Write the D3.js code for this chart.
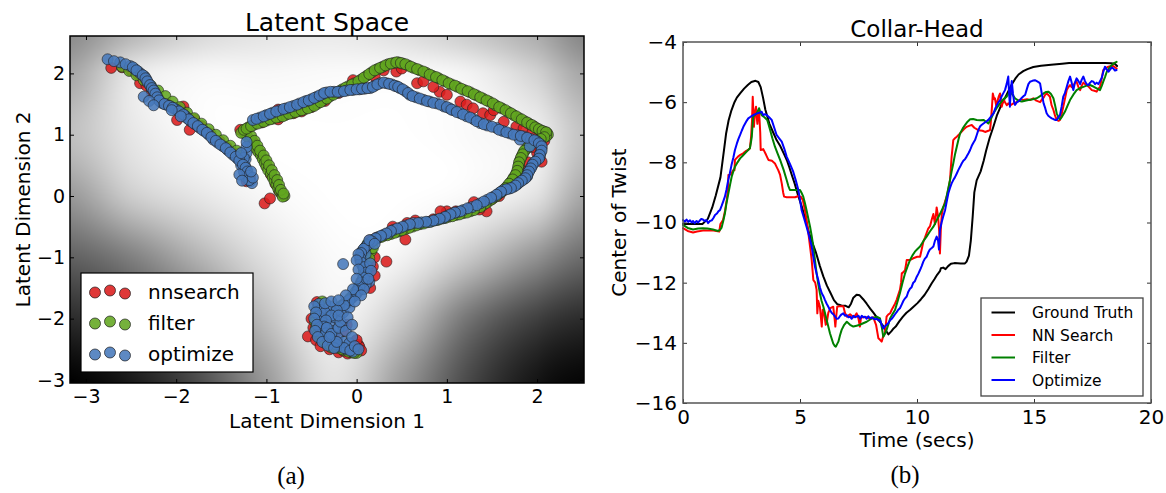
<!DOCTYPE html>
<html>
<head>
<meta charset="utf-8">
<script src="https://cdn.jsdelivr.net/npm/d3@7"></script>
<style>
  html, body { margin: 0; padding: 0; background: #fff; }
  svg { display: block; font-family: "DejaVu Sans", sans-serif; }
</style>
</head>
<body>
<svg id="fig" width="1166" height="493"></svg>
<script>
// ---------------- panel (a): latent space ----------------
const latentTicks = [-3, -2, -1, 0, 1, 2];
const latentSeries = ["nnsearch", "filter", "optimize"];

const nnsearchPts = [
  [-2.72,2.09],[-2.60,2.10],[-2.50,2.05],[-2.42,1.98],[-2.40,1.84],[-2.33,1.80],[-2.27,1.69],[-2.20,1.60],
  [-2.10,1.50],[-1.99,1.24],[-1.92,1.46],[-1.85,1.08],[-1.80,1.25],[-1.72,1.14],[-1.62,1.02],[-1.52,0.90],
  [-1.44,0.80],[-1.36,0.70],[-1.30,0.60],[-1.25,0.45],[-1.22,0.24],[-1.18,0.30],[-1.24,0.34],
  [-1.29,1.08],[-1.15,0.88],[-1.08,0.72],[-1.00,0.50],[-0.95,0.35],[-0.90,0.20],[-1.02,-0.12],[-0.96,-0.04],[-0.86,0.08],
  [-1.20,1.10],[-1.05,1.20],[-0.87,1.25],[-0.87,1.41],[-0.70,1.35],[-0.61,1.38],[-0.50,1.45],[-0.41,1.54],
  [-0.35,1.55],[-0.20,1.68],[-0.04,1.89],[0.05,1.85],[0.20,1.95],[0.30,2.05],[0.44,2.03],[0.50,2.08],
  [0.67,1.84],[0.74,1.87],[0.92,1.70],[1.00,1.65],[1.15,1.54],[1.22,1.49],[1.29,1.43],[1.40,1.35],
  [1.48,1.32],[1.52,1.40],[1.63,1.21],[1.77,1.13],[1.85,1.10],[1.95,1.05],[2.05,0.98],[2.08,0.90],
  [2.05,0.56],[2.00,0.70],[1.90,0.55],[1.85,0.40],[1.80,0.30],[1.72,0.18],[1.62,0.08],[1.50,-0.05],
  [1.44,-0.25],[1.36,-0.22],[1.25,-0.20],[1.10,-0.25],[1.00,-0.25],[0.93,-0.25],[0.85,-0.38],[0.70,-0.45],
  [0.56,-0.44],[0.54,-0.71],[0.45,-0.58],[0.33,-0.62],[0.22,-0.68],[0.15,-0.72],[0.10,-0.85],[0.33,-1.07],
  [0.20,-1.00],[0.08,-1.10],[0.10,-1.25],[0.05,-1.40],[0.02,-1.55],[-0.05,-1.65],[-0.12,-1.75],[-0.20,-1.85],
  [-0.28,-1.95],[-0.44,-1.73],[-0.40,-1.85],[-0.36,-2.05],[-0.54,-2.29],[-0.45,-2.35],[-0.40,-2.45],[-0.30,-2.50],
  [-0.20,-2.55],[-0.11,-2.10],[-0.10,-2.57],[0.02,-2.43],[0.03,-2.46],[-0.02,-2.55],[-0.25,-2.30],[-0.15,-2.20],
  [1.30,-0.10],[1.58,0.00],[0.65,-0.40],[0.40,-0.50],[1.95,0.80],[0.85,1.78],[0.05,1.75],[-0.55,1.48],
  [-0.50,-2.00],[-0.48,-2.15],[0.00,-2.35],[0.05,-2.52],[-0.15,-2.52],[0.18,-1.15],[0.20,-1.30],[0.15,-1.50]
];

const filterPts = [
  [-2.60,2.11],[-2.52,2.04],[-2.44,1.97],[-2.36,1.89],[-2.28,1.80],[-2.20,1.72],[-2.12,1.63],[-2.04,1.54],
  [-1.96,1.45],[-1.88,1.36],[-1.80,1.27],[-1.72,1.18],[-1.64,1.09],[-1.56,1.00],[-1.48,0.91],[-1.40,0.82],
  [-1.33,0.74],[-1.27,0.66],
  [-1.24,1.02],[-1.21,0.96],[-1.18,0.90],[-1.15,0.84],[-1.12,0.78],[-1.09,0.72],[-1.06,0.66],[-1.04,0.60],
  [-1.02,0.54],[-1.00,0.48],[-0.98,0.42],[-0.95,0.36],[-0.93,0.30],[-0.91,0.24],[-0.89,0.18],[-0.87,0.12],
  [-0.85,0.07],[-0.83,0.03],[-0.80,0.00],[-0.82,-0.01],
  [-1.17,0.98],[-1.13,0.90],[-1.10,0.82],[-1.07,0.74],[-1.03,0.66],[-1.00,0.58],[-0.97,0.50],[-0.94,0.42],
  [-0.91,0.34],[-0.88,0.26],[-0.86,0.18],[-0.84,0.10],[-0.81,0.04],
  [-1.28,1.03],[-1.25,1.08],[-1.20,1.12],[-1.14,1.16],[-1.07,1.20],[-1.00,1.23],[-0.93,1.26],[-0.86,1.29],
  [-0.79,1.32],[-0.72,1.35],[-0.65,1.38],[-0.58,1.41],[-0.51,1.45],[-0.44,1.50],[-0.37,1.56],[-0.30,1.62],
  [-0.23,1.68],[-0.16,1.74],[-0.09,1.79],[-0.02,1.84],[0.05,1.90],[0.11,1.96],[0.17,2.02],[0.23,2.07],
  [0.29,2.11],[0.35,2.15],[0.41,2.17],[0.46,2.18],[0.51,2.16],[0.57,2.13],[0.63,2.09],[0.70,2.05],
  [0.77,2.01],[0.84,1.96],[0.91,1.92],[0.98,1.87],[1.05,1.82],[1.12,1.78],[1.19,1.73],[1.26,1.69],
  [1.33,1.64],[1.40,1.59],[1.47,1.54],[1.54,1.48],[1.61,1.43],[1.68,1.37],[1.74,1.32],[1.80,1.27],
  [1.86,1.22],[1.91,1.18],[1.96,1.14],[2.00,1.10],[2.04,1.07],[2.08,1.05],[2.11,1.03],[2.12,1.00],
  [2.10,0.97],[2.06,0.95],[2.02,0.92],[1.97,0.88],[1.92,0.83],[1.88,0.77],[1.85,0.71],[1.83,0.65],
  [1.81,0.58],[1.80,0.51],[1.79,0.44],[1.77,0.37],[1.74,0.30],[1.71,0.23],[1.67,0.16],[1.62,0.09],
  [1.57,0.03],[1.52,-0.03],[1.46,-0.09],[1.40,-0.15],[1.33,-0.20],[1.26,-0.25],[1.18,-0.28],[1.10,-0.31],
  [1.02,-0.34],[0.94,-0.37],[0.86,-0.40],[0.78,-0.43],[0.70,-0.46],[0.62,-0.50],[0.54,-0.54],[0.46,-0.58],
  [0.38,-0.62],[0.30,-0.65],[0.23,-0.69],[0.17,-0.74],[0.12,-0.80],[0.08,-0.87],[0.06,-0.94],[0.05,-1.01],
  [0.05,-1.08],[0.07,-1.15],[0.08,-1.22],[0.08,-1.30],[0.06,-1.38],[0.03,-1.46],[0.00,-1.54],[-0.04,-1.62],
  [-0.09,-1.70],[-0.15,-1.77],[-0.21,-1.84],[-0.27,-1.92],[-0.32,-2.00],[-0.36,-2.08],[-0.39,-2.16],[-0.40,-2.24],
  [-0.38,-2.32],[-0.33,-2.39],[-0.27,-2.44],[-0.20,-2.48],[-0.13,-2.52],[-0.06,-2.55],[0.00,-2.56],
  [-0.44,-1.85],[-0.45,-1.95],[-0.46,-2.05],[-0.45,-2.15],[-0.43,-2.25],[-0.40,-2.33],[-0.35,-2.40],[-0.28,-2.47],
  [-0.42,-1.78],[-0.38,-1.72],[0.12,-0.78],[0.16,-0.90],[0.14,-1.02],[0.18,-0.85],
  [-1.22,1.10],[-1.17,1.14],[-1.10,1.18],[-1.03,1.21],[-0.96,1.25],[-0.89,1.28],[-0.82,1.30],[-0.75,1.34],
  [-0.68,1.37],[-0.61,1.40],[-0.54,1.43],[-0.47,1.47],[-0.40,1.53],[-0.33,1.59],[-0.26,1.65],[-0.19,1.71],
  [-0.12,1.77],[-0.05,1.82],[0.02,1.87],[0.08,1.93],[0.14,1.99],[0.20,2.05],[0.26,2.09],[0.32,2.13],
  [0.38,2.16],[0.44,2.18],[0.49,2.17],[0.54,2.15],[0.60,2.11],[0.67,2.07],[0.74,2.03],[0.81,1.98],
  [0.88,1.94],[0.95,1.89],[1.02,1.84],[1.09,1.80],[1.16,1.75],[1.23,1.71],[1.30,1.66],[1.37,1.61],
  [1.44,1.56],[1.51,1.51],[1.58,1.45],[1.65,1.40],[1.71,1.35],[1.77,1.30],[1.83,1.25],[1.89,1.20],
  [1.94,1.16],[1.98,1.12],[2.02,1.09],[2.06,1.06],[2.10,1.04],
  [2.08,0.96],[2.04,0.93],[1.99,0.90],[1.94,0.85],[1.90,0.80],[1.86,0.74],[1.84,0.68],[1.82,0.62],
  [1.80,0.55],[1.79,0.48],[1.78,0.41],[1.76,0.34],[1.73,0.27],[1.69,0.20],[1.65,0.13],[1.60,0.06],
  [1.55,0.00],[1.49,-0.06],[1.43,-0.12],[1.37,-0.18],[1.30,-0.23],[1.22,-0.27],[1.14,-0.30],[1.06,-0.33],
  [0.98,-0.36],[0.90,-0.39],[0.82,-0.42],[0.74,-0.45],[0.66,-0.48],[0.58,-0.52],[0.50,-0.56],[0.42,-0.60],
  [0.34,-0.64],[0.27,-0.67],[0.20,-0.72],[0.14,-0.77],[0.10,-0.84],[0.07,-0.91],[0.05,-0.98],[0.05,-1.05],
  [0.06,-1.12],[0.08,-1.19],[0.08,-1.26],[0.07,-1.34],[0.05,-1.42],[0.02,-1.50],[-0.02,-1.58],[-0.07,-1.66],
  [-0.12,-1.73],[-0.18,-1.80],[-0.24,-1.88],[-0.30,-1.96],[-0.34,-2.04],[-0.38,-2.12],[-0.40,-2.20],[-0.39,-2.28],
  [-0.36,-2.36],[-0.30,-2.42],[-0.23,-2.46],[-0.16,-2.50],[-0.09,-2.54],[-0.03,-2.56]
];

const optimizePts = [
  [-2.76,2.23],[-2.62,2.18],[-2.51,2.12],[-2.46,2.07],[-2.42,2.03],[-2.39,1.99],[-2.35,1.95],[-2.33,1.90],
  [-2.31,1.84],[-2.28,1.78],[-2.26,1.74],[-2.24,1.70],[-2.22,1.64],[-2.20,1.58],[-2.18,1.54],[-2.15,1.51],
  [-2.11,1.49],[-2.06,1.46],[-2.02,1.43],[-1.99,1.40],[-1.94,1.35],[-1.90,1.31],[-1.88,1.27],[-1.84,1.22],
  [-1.79,1.17],[-1.74,1.11],[-1.69,1.06],[-1.64,1.00],[-1.59,0.92],[-1.54,0.87],[-1.48,0.81],[-1.43,0.75],
  [-1.37,0.67],[-1.32,0.61],[-1.27,0.54],[-1.24,0.48],[-1.22,0.43],[-1.21,0.36],[-1.20,0.29],[-1.18,0.24],
  [-1.16,0.21],[-1.23,0.31],[-1.25,0.40],[-1.24,0.50],[-1.23,0.60],[-1.22,0.70],[-1.22,0.80],[-1.22,0.88],
  [-1.25,0.62],[-1.28,0.50],
  [-2.69,2.20],[-2.56,2.15],[-2.48,2.10],[-2.44,2.05],[-2.37,1.97],[-2.34,1.92],[-2.32,1.87],[-2.29,1.81],
  [-2.27,1.76],[-2.25,1.72],[-2.23,1.67],[-2.21,1.61],[-2.19,1.56],[-2.13,1.50],[-2.08,1.47],[-2.04,1.44],
  [-1.97,1.38],[-1.92,1.33],[-1.86,1.25],[-1.81,1.19],[-1.76,1.14],[-1.71,1.08],[-1.66,1.03],[-1.61,0.96],
  [-1.56,0.90],[-1.51,0.84],[-1.45,0.78],[-1.40,0.71],[-1.34,0.64],[-1.30,0.58],[-1.26,0.51],[-1.23,0.46],
  [-1.21,0.40],[-1.20,0.33],[-1.19,0.26],
  [-2.36,1.62],[-2.30,1.55],[-2.25,1.48],[-2.05,1.40],[-1.95,1.30],[-1.30,0.35],[-1.27,0.25],[-1.15,0.30],
  [-1.17,0.40],[-1.28,0.70],
  [-1.15,1.24],[-1.07,1.28],[-1.00,1.32],[-0.93,1.36],[-0.85,1.40],[-0.78,1.43],[-0.70,1.47],[-0.63,1.51],
  [-0.56,1.55],[-0.50,1.58],[-0.44,1.62],[-0.38,1.66],[-0.33,1.69],[-0.25,1.70],[-0.18,1.70],[-0.11,1.72],
  [-0.04,1.73],[0.03,1.74],[0.09,1.75],[0.15,1.76],[0.20,1.80],[0.26,1.84],[0.33,1.84],[0.39,1.82],
  [0.44,1.79],[0.48,1.76],[0.54,1.71],[0.59,1.65],[0.66,1.61],[0.74,1.57],[0.81,1.54],[0.89,1.51],
  [0.97,1.46],[1.03,1.43],[1.07,1.40],[1.15,1.35],[1.22,1.30],[1.30,1.25],[1.37,1.19],[1.45,1.15],
  [1.55,1.11],[1.62,1.06],[1.70,1.02],[1.78,0.99],[1.85,0.97],[1.93,0.93],[2.00,0.89],[2.04,0.84],
  [2.05,0.78],[2.04,0.71],[2.03,0.64],[2.00,0.59],[1.96,0.54],[1.94,0.48],[1.92,0.43],[1.90,0.37],
  [1.89,0.32],[1.85,0.27],[1.81,0.23],[1.78,0.19],[1.74,0.15],[1.69,0.12],[1.63,0.10],[1.58,0.05],
  [1.52,-0.01],[1.45,-0.06],[1.37,-0.12],[1.28,-0.18],[1.18,-0.23],[1.12,-0.26],[1.07,-0.28],[1.01,-0.32],
  [0.96,-0.36],[0.88,-0.39],[0.81,-0.42],[0.72,-0.43],[0.63,-0.44],[0.55,-0.48],[0.48,-0.52],[0.41,-0.55],
  [0.36,-0.60],[0.30,-0.63],[0.24,-0.67],[0.19,-0.71],[0.15,-0.77],[0.10,-0.83],[0.06,-0.90],[0.04,-0.97],
  [0.04,-1.05],[0.06,-1.12],[0.11,-1.21],[0.09,-1.29],[0.07,-1.37],[0.05,-1.45],[0.02,-1.52],[0.00,-1.59],
  [-0.05,-1.66],[-0.11,-1.75],[-0.18,-1.82],[-0.26,-1.91],[-0.31,-1.99],[-0.37,-2.08],[-0.35,-2.18],[-0.33,-2.30],
  [-0.27,-2.38],[-0.18,-2.46],[-0.11,-2.50],[-0.04,-2.54],[-0.42,-1.76],[-0.40,-1.86],[-0.42,-1.96],[-0.39,-2.04],
  [-0.41,-2.14],[-0.38,-2.24],[-0.30,-2.10],[-0.25,-2.20],[-0.21,-2.30],[-0.14,-2.38],[-0.24,-1.98],[-0.15,-1.90],
  [-0.08,-1.82],[-0.15,-2.12],[-0.08,-2.40],[-0.30,-1.80],[-0.35,-1.90],[0.12,-1.30],[0.14,-1.40],[0.10,-1.45],
  [0.12,-1.15],[0.10,-0.95],[1.92,0.81],[1.81,0.92],[-0.15,-1.11],
  [-1.11,1.26],[-1.03,1.30],[-0.96,1.34],[-0.89,1.38],[-0.81,1.42],[-0.74,1.45],[-0.66,1.49],[-0.59,1.53],
  [-0.53,1.56],[-0.47,1.60],[-0.41,1.64],[-0.36,1.68],[-0.29,1.70],[-0.21,1.70],[-0.14,1.71],[-0.07,1.73],
  [0.00,1.74],[0.06,1.75],[0.12,1.76],[0.18,1.78],[0.23,1.82],[0.30,1.85],[0.36,1.83],[0.42,1.80],
  [0.46,1.78],[0.51,1.74],[0.57,1.68],[0.62,1.63],[0.70,1.59],[0.78,1.55],[0.85,1.52],[0.93,1.49],
  [1.00,1.45],[1.05,1.41],[1.11,1.37],[1.18,1.33],[1.26,1.28],[1.33,1.22],[1.41,1.17],[1.50,1.13],
  [1.58,1.08],[1.66,1.04],[1.74,1.00],[1.82,0.98],[1.89,0.95],[1.97,0.91],[2.02,0.86],[2.05,0.81],
  [2.05,0.74],[2.03,0.67],[2.02,0.61],[1.98,0.56],[1.95,0.51],[1.93,0.45],[1.91,0.40],[1.89,0.34],
  [1.87,0.29],[1.83,0.25],[1.79,0.21],[1.76,0.17],[1.71,0.13],[1.66,0.11],[1.60,0.07],[1.55,0.02],
  [1.49,-0.03],[1.41,-0.09],[1.33,-0.15],[1.23,-0.20],[1.15,-0.25],[1.09,-0.27],[1.04,-0.30],[0.98,-0.34],
  [0.92,-0.37],[0.85,-0.40],[0.77,-0.42],[0.68,-0.44],[0.59,-0.46],[0.51,-0.50],[0.45,-0.53],[0.38,-0.57],
  [0.33,-0.61],[0.27,-0.65],[0.21,-0.69],[0.17,-0.74],[0.12,-0.80],[0.08,-0.86],[0.05,-0.93],[0.04,-1.01],
  [0.05,-1.08],[0.08,-1.16],[0.10,-1.25],[0.08,-1.33],[0.06,-1.41],[0.03,-1.48],[0.01,-1.55],[-0.02,-1.62],
  [-0.08,-1.70],[-0.14,-1.78],[-0.22,-1.86],[-0.28,-1.95],[-0.34,-2.03],[-0.36,-2.13],[-0.34,-2.24],[-0.30,-2.34],
  [-0.23,-2.42],[-0.14,-2.48],[-0.07,-2.52],
  [-0.47,-1.80],[-0.45,-1.90],[-0.47,-2.00],[-0.44,-2.10],[-0.46,-2.20],[-0.43,-2.30],[-0.38,-2.38],[-0.32,-2.44],
  [-0.25,-2.48],[-0.33,-2.15],[-0.28,-2.25],[-0.20,-2.15],[-0.18,-2.05],[-0.12,-2.20],[-0.05,-2.30],[-0.02,-2.45],
  [0.02,-2.50],[-0.22,-2.38],[-0.35,-1.75],[-0.28,-1.72],[-0.20,-1.95],[-0.10,-1.98],[-0.05,-2.10],[-0.30,-2.30],
  [0.14,-0.72],[0.20,-0.78],[0.02,-0.95],[0.00,-1.05],[0.15,-1.10],[0.16,-1.22],[0.02,-1.20],[0.13,-1.35],
  [0.00,-1.35],[0.08,-1.52],[-0.04,-1.52],[0.05,-1.62],[-0.12,-1.62],[-0.02,-1.72],[-0.20,-1.70]
];

// grey shading behind the latent points (1 = white, 0 = black), rows from top to bottom
const shadeX = [-3.18, -2.5, -1.75, -1.0, -0.25, 0.5, 1.25, 2.0, 2.52];
const shadeY = [2.61, 2.0, 1.0, 0.0, -1.0, -2.0, -3.05];
const shadeRows = [
  [0.55, 0.72, 0.85, 0.90, 0.92, 0.88, 0.80, 0.68, 0.53],
  [0.65, 0.90, 0.97, 0.97, 0.98, 0.98, 0.95, 0.82, 0.65],
  [0.75, 0.90, 0.98, 1.00, 1.00, 1.00, 0.98, 0.93, 0.76],
  [0.60, 0.80, 0.90, 0.97, 1.00, 1.00, 0.97, 0.88, 0.65],
  [0.38, 0.50, 0.70, 0.88, 0.98, 0.95, 0.78, 0.57, 0.42],
  [0.17, 0.28, 0.45, 0.75, 0.95, 0.78, 0.45, 0.25, 0.17],
  [0.00, 0.10, 0.30, 0.60, 0.88, 0.60, 0.28, 0.08, 0.02]
];

// ---------------- panel (b): collar-head twist over time ----------------
const timeTicks = [0, 5, 10, 15, 20];
const twistTicks = [-16, -14, -12, -10, -8, -6, -4];
const trackNames = ["Ground Truth", "NN Search", "Filter", "Optimize"];

const groundTruth = [
  [0,-10.05],[0.4,-10.05],[0.83,-10.05],[1.06,-9.88],[1.25,-9.5],[1.4,-9.1],[1.6,-8.5],[1.75,-7.6],[1.84,-7.05],
  [1.95,-6.6],[2.07,-6.27],[2.2,-6.0],[2.3,-5.85],[2.45,-5.7],[2.61,-5.55],[2.78,-5.42],[2.92,-5.33],[3.1,-5.29],
  [3.22,-5.33],[3.32,-5.5],[3.42,-5.85],[3.52,-6.25],[3.69,-6.71],[3.85,-7.0],[4.0,-7.26],[4.15,-7.45],[4.31,-7.71],
  [4.45,-7.95],[4.54,-8.15],[4.65,-8.42],[4.77,-8.7],[4.92,-9.1],[5.08,-9.48],[5.25,-9.95],[5.39,-10.36],[5.55,-10.72],
  [5.69,-11.02],[5.85,-11.45],[6.0,-11.8],[6.15,-12.1],[6.31,-12.35],[6.45,-12.58],[6.6,-12.72],[6.77,-12.76],
  [6.95,-12.77],[7.08,-12.82],[7.18,-12.7],[7.28,-12.5],[7.42,-12.4],[7.55,-12.42],[7.7,-12.55],[7.85,-12.7],
  [8.0,-12.86],[8.16,-13.02],[8.3,-13.18],[8.4,-13.29],[8.52,-13.4],[8.63,-13.55],[8.78,-13.72],[8.9,-13.62],
  [9.0,-13.52],[9.09,-13.46],[9.25,-13.28],[9.4,-13.13],[9.55,-13.0],[9.71,-12.9],[9.85,-12.8],[10.02,-12.68],
  [10.17,-12.55],[10.32,-12.41],[10.48,-12.22],[10.63,-12.02],[10.75,-11.88],[10.86,-11.74],[10.98,-11.62],
  [11.02,-11.52],[11.12,-11.5],[11.22,-11.55],[11.33,-11.45],[11.45,-11.37],[11.6,-11.35],[11.87,-11.36],
  [12.05,-11.36],[12.12,-11.3],[12.22,-11.1],[12.3,-10.6],[12.38,-9.8],[12.45,-9.0],[12.55,-8.6],[12.72,-8.3],
  [12.85,-7.95],[12.95,-7.62],[13.1,-7.2],[13.25,-6.85],[13.41,-6.45],[13.6,-6.1],[13.83,-5.75],[14.03,-5.44],
  [14.2,-5.22],[14.34,-5.08],[14.54,-4.97],[14.72,-4.9],[14.97,-4.83],[15.3,-4.79],[15.73,-4.76],[16.2,-4.72],
  [16.5,-4.7],[17.0,-4.7],[17.5,-4.7],[18.04,-4.7],[18.3,-4.71],[18.45,-4.72],[18.55,-4.8]
];

const nnSearch = [
  [0,-10.19],[0.2,-10.28],[0.43,-10.33],[0.6,-10.3],[0.85,-10.27],[1.1,-10.27],[1.3,-10.27],[1.55,-10.3],[1.6,-10.05],
  [1.71,-9.92],[1.8,-9.6],[1.87,-9.25],[1.92,-8.9],[1.94,-8.42],[2.05,-8.4],[2.14,-8.26],[2.2,-8.26],[2.22,-7.92],
  [2.35,-7.81],[2.45,-7.75],[2.57,-7.7],[2.7,-7.62],[2.78,-7.59],[2.86,-7.53],[2.91,-7.15],[2.95,-6.6],[2.98,-5.82],
  [3.01,-6.4],[3.03,-6.82],[3.08,-6.3],[3.12,-6.15],[3.15,-6.5],[3.18,-6.72],[3.22,-6.3],[3.26,-6.4],[3.3,-7.0],
  [3.32,-7.59],[3.43,-7.56],[3.55,-7.75],[3.65,-7.92],[3.8,-7.95],[3.93,-8.04],[4.0,-8.15],[4.07,-8.26],[4.15,-8.42],
  [4.22,-8.7],[4.28,-9.0],[4.32,-9.14],[4.43,-9.16],[4.6,-9.16],[4.79,-9.16],[4.93,-9.12],[5.03,-9.14],[5.12,-9.25],
  [5.21,-9.59],[5.3,-10.0],[5.36,-10.36],[5.43,-10.8],[5.5,-11.25],[5.57,-11.91],[5.65,-12.0],[5.71,-12.24],
  [5.74,-13.02],[5.78,-12.6],[5.85,-12.8],[5.93,-13.46],[5.97,-12.9],[6.03,-13.02],[6.1,-13.4],[6.14,-13.35],
  [6.21,-13.0],[6.3,-12.85],[6.42,-12.8],[6.48,-13.2],[6.51,-13.46],[6.55,-13.1],[6.59,-12.8],[6.7,-12.78],
  [6.85,-12.78],[6.92,-13.0],[7.0,-13.13],[7.14,-13.05],[7.28,-13.15],[7.35,-13.1],[7.42,-13.02],[7.5,-13.2],
  [7.56,-13.46],[7.6,-13.2],[7.64,-13.15],[7.85,-13.15],[8.0,-13.2],[8.13,-13.15],[8.25,-13.4],[8.35,-13.85],
  [8.42,-13.9],[8.49,-13.96],[8.55,-13.8],[8.63,-13.68],[8.68,-13.3],[8.7,-13.13],[8.78,-13.05],[8.85,-13.02],
  [8.92,-12.9],[8.99,-12.8],[9.06,-12.7],[9.13,-12.57],[9.2,-12.4],[9.27,-12.24],[9.32,-12.0],[9.35,-11.69],
  [9.42,-11.65],[9.49,-11.58],[9.53,-11.4],[9.56,-11.25],[9.7,-11.25],[9.84,-11.19],[10.01,-11.14],[10.13,-11.14],
  [10.2,-10.9],[10.27,-10.64],[10.34,-10.5],[10.41,-10.35],[10.48,-10.2],[10.56,-10.12],[10.63,-9.9],[10.7,-9.72],
  [10.77,-10.06],[10.84,-9.5],[10.9,-9.8],[10.95,-10.3],[10.98,-11.03],[11.02,-10.2],[11.06,-9.72],[11.12,-9.5],
  [11.2,-9.3],[11.27,-9.14],[11.34,-8.9],[11.41,-8.59],[11.48,-7.81],[11.52,-7.5],[11.55,-7.26],[11.62,-7.2],
  [11.7,-7.15],[11.84,-7.04],[12.0,-6.9],[12.12,-6.82],[12.25,-6.78],[12.34,-6.76],[12.45,-6.85],[12.62,-6.93],
  [12.8,-6.95],[12.91,-6.99],[13.05,-6.95],[13.12,-6.93],[13.15,-6.71],[13.2,-6.2],[13.24,-5.71],[13.3,-5.9],
  [13.33,-5.87],[13.38,-6.1],[13.41,-6.04],[13.5,-5.8],[13.55,-5.71],[13.62,-6.15],[13.7,-5.9],[13.76,-6.0],
  [13.84,-6.1],[13.9,-6.04],[14.0,-6.1],[14.12,-6.04],[14.25,-6.0],[14.33,-5.95],[14.45,-5.9],[14.54,-5.93],
  [14.7,-5.9],[14.83,-5.93],[14.97,-5.87],[15.1,-5.95],[15.26,-6.0],[15.35,-5.9],[15.41,-5.85],[15.48,-5.75],
  [15.54,-5.71],[15.6,-5.75],[15.68,-5.82],[15.75,-6.1],[15.83,-6.26],[15.9,-6.45],[15.97,-6.59],[16.05,-6.62],
  [16.11,-6.59],[16.18,-6.4],[16.25,-6.15],[16.32,-5.9],[16.4,-5.6],[16.47,-5.5],[16.54,-5.43],[16.61,-5.5],
  [16.68,-5.45],[16.75,-5.35],[16.82,-5.32],[16.9,-5.5],[16.97,-5.6],[17.04,-5.45],[17.11,-5.35],[17.18,-5.4],
  [17.25,-5.43],[17.35,-5.5],[17.47,-5.6],[17.58,-5.62],[17.68,-5.65],[17.75,-5.55],[17.82,-5.49],[17.9,-5.2],
  [17.96,-4.93],[18.05,-4.88],[18.18,-4.82],[18.3,-4.8],[18.39,-4.8],[18.53,-4.88]
];

const filterTrack = [
  [0,-10.08],[0.2,-10.18],[0.43,-10.23],[0.65,-10.2],[0.85,-10.19],[1.05,-10.2],[1.28,-10.23],[1.5,-10.28],
  [1.58,-10.25],[1.65,-10.17],[1.72,-9.95],[1.79,-9.7],[1.86,-9.35],[1.94,-9.03],[2.01,-8.75],[2.08,-8.48],
  [2.15,-8.3],[2.22,-8.15],[2.33,-8.0],[2.44,-7.87],[2.55,-7.78],[2.65,-7.7],[2.75,-7.62],[2.86,-7.53],
  [2.9,-7.35],[2.94,-7.15],[2.97,-6.8],[3.0,-6.48],[3.08,-6.42],[3.15,-6.37],[3.25,-6.2],[3.3,-6.32],
  [3.36,-6.43],[3.48,-6.5],[3.6,-6.59],[3.66,-6.75],[3.72,-6.92],[3.82,-7.2],[3.93,-7.48],[4.04,-7.7],
  [4.15,-7.92],[4.3,-8.25],[4.43,-8.59],[4.5,-8.78],[4.57,-8.92],[4.75,-8.92],[5.0,-8.92],[5.07,-9.02],
  [5.14,-9.14],[5.21,-9.35],[5.28,-9.59],[5.35,-9.85],[5.43,-10.14],[5.5,-10.45],[5.57,-10.8],[5.64,-11.25],
  [5.71,-11.69],[5.78,-12.05],[5.85,-12.35],[5.92,-12.6],[6.0,-12.8],[6.07,-13.02],[6.14,-13.24],[6.21,-13.46],
  [6.28,-13.68],[6.35,-13.85],[6.42,-14.02],[6.48,-14.1],[6.53,-14.13],[6.58,-14.05],[6.64,-13.96],[6.71,-13.75],
  [6.78,-13.57],[6.89,-13.4],[7.0,-13.3],[7.14,-13.4],[7.28,-13.46],[7.42,-13.43],[7.56,-13.4],[7.7,-13.35],
  [7.85,-13.3],[8.05,-13.2],[8.28,-13.13],[8.42,-13.19],[8.5,-13.5],[8.56,-13.8],[8.63,-13.7],[8.7,-13.57],
  [8.78,-13.38],[8.85,-13.19],[8.95,-13.05],[9.06,-12.91],[9.16,-12.65],[9.27,-12.35],[9.38,-12.0],[9.49,-11.69],
  [9.6,-11.45],[9.7,-11.25],[9.8,-11.1],[9.91,-10.97],[10.02,-10.88],[10.13,-10.8],[10.27,-10.62],[10.41,-10.47],
  [10.55,-10.3],[10.7,-10.14],[10.84,-9.93],[10.98,-9.72],[11.1,-9.52],[11.2,-9.37],[11.3,-9.0],[11.41,-8.59],
  [11.48,-8.3],[11.55,-8.04],[11.62,-7.75],[11.7,-7.48],[11.77,-7.25],[11.84,-7.04],[11.95,-6.88],[12.05,-6.76],
  [12.16,-6.65],[12.27,-6.57],[12.4,-6.56],[12.55,-6.59],[12.7,-6.6],[12.84,-6.59],[12.95,-6.65],[13.05,-6.71],
  [13.16,-6.55],[13.27,-6.37],[13.4,-6.2],[13.55,-6.04],[13.7,-5.9],[13.83,-5.82],[13.97,-5.65],[14.08,-5.75],
  [14.19,-5.87],[14.33,-5.95],[14.48,-5.98],[14.62,-5.95],[14.76,-5.93],[14.95,-5.9],[15.12,-5.87],[15.26,-5.8],
  [15.41,-5.71],[15.52,-5.66],[15.61,-5.65],[15.72,-5.72],[15.83,-5.87],[15.9,-6.1],[15.97,-6.37],[16.04,-6.5],
  [16.11,-6.57],[16.2,-6.48],[16.32,-6.32],[16.43,-6.12],[16.54,-5.93],[16.68,-5.75],[16.82,-5.6],[16.97,-5.53],
  [17.11,-5.49],[17.25,-5.45],[17.39,-5.43],[17.54,-5.48],[17.68,-5.54],[17.82,-5.6],[17.9,-5.45],[17.96,-5.32],
  [18.04,-5.15],[18.11,-4.99],[18.2,-4.88],[18.32,-4.77],[18.42,-4.7],[18.53,-4.66]
];

const optimizeTrack = [
  [0,-9.92],[0.08,-9.97],[0.15,-9.9],[0.22,-9.98],[0.3,-9.93],[0.37,-10.0],[0.43,-9.95],[0.5,-10.02],[0.58,-9.95],
  [0.65,-10.0],[0.7,-9.95],[0.78,-9.88],[0.85,-9.9],[0.92,-9.95],[1.0,-9.92],[1.07,-10.02],[1.15,-9.95],[1.23,-9.93],
  [1.3,-9.85],[1.37,-9.75],[1.45,-9.7],[1.52,-9.62],[1.58,-9.59],[1.65,-9.45],[1.72,-9.3],[1.79,-9.14],[1.86,-8.9],
  [1.93,-8.6],[2.0,-8.37],[2.07,-8.1],[2.15,-7.85],[2.22,-7.59],[2.3,-7.38],[2.37,-7.22],[2.44,-7.09],[2.51,-6.95],
  [2.58,-6.82],[2.65,-6.72],[2.72,-6.62],[2.79,-6.54],[2.86,-6.5],[2.93,-6.46],[3.0,-6.43],[3.09,-6.4],[3.18,-6.37],
  [3.27,-6.35],[3.36,-6.32],[3.43,-6.43],[3.5,-6.4],[3.58,-6.43],[3.68,-6.5],[3.79,-6.59],[3.9,-6.85],[4.0,-7.09],
  [4.11,-7.2],[4.22,-7.31],[4.33,-7.55],[4.43,-7.81],[4.57,-8.05],[4.71,-8.31],[4.82,-8.6],[4.93,-8.92],[5.0,-9.25],
  [5.07,-9.59],[5.17,-9.85],[5.28,-10.14],[5.39,-10.45],[5.5,-10.8],[5.57,-11.15],[5.64,-11.47],[5.71,-11.7],
  [5.78,-11.91],[5.85,-12.15],[5.93,-12.35],[6.0,-12.45],[6.07,-12.58],[6.14,-12.7],[6.21,-12.8],[6.28,-12.91],
  [6.35,-13.0],[6.42,-13.05],[6.5,-13.13],[6.57,-13.2],[6.64,-13.19],[6.72,-13.1],[6.78,-13.05],[6.85,-13.02],
  [6.92,-13.1],[7.0,-13.08],[7.07,-13.15],[7.14,-13.13],[7.21,-13.2],[7.28,-13.1],[7.35,-13.15],[7.42,-13.13],
  [7.5,-13.1],[7.57,-13.2],[7.64,-13.1],[7.71,-13.15],[7.78,-13.13],[7.85,-13.2],[7.92,-13.12],[8.0,-13.18],
  [8.07,-13.15],[8.13,-13.19],[8.2,-13.22],[8.28,-13.2],[8.35,-13.25],[8.42,-13.24],[8.49,-13.4],[8.56,-13.52],
  [8.63,-13.45],[8.7,-13.4],[8.77,-13.35],[8.85,-13.25],[8.92,-13.2],[8.99,-13.13],[9.06,-13.05],[9.13,-12.98],
  [9.2,-12.9],[9.27,-12.85],[9.35,-12.72],[9.42,-12.6],[9.49,-12.52],[9.56,-12.46],[9.63,-12.3],[9.7,-12.2],
  [9.77,-12.15],[9.84,-12.0],[9.91,-11.95],[9.99,-11.8],[10.06,-11.7],[10.13,-11.58],[10.2,-11.45],[10.27,-11.3],
  [10.34,-11.2],[10.41,-11.14],[10.48,-11.0],[10.55,-10.9],[10.63,-10.85],[10.7,-10.8],[10.77,-10.6],[10.84,-10.47],
  [10.9,-10.6],[10.94,-10.9],[10.98,-10.25],[11.05,-10.0],[11.12,-9.8],[11.2,-9.59],[11.27,-9.3],[11.34,-9.03],
  [11.41,-8.85],[11.48,-8.7],[11.55,-8.59],[11.62,-8.5],[11.7,-8.37],[11.77,-8.25],[11.84,-8.15],[11.91,-8.04],
  [11.98,-7.95],[12.05,-7.9],[12.12,-7.81],[12.2,-7.7],[12.27,-7.59],[12.34,-7.45],[12.41,-7.35],[12.48,-7.26],
  [12.55,-7.1],[12.62,-6.93],[12.7,-6.8],[12.77,-6.75],[12.84,-6.71],[12.95,-6.65],[13.05,-6.59],[13.16,-6.48],
  [13.27,-6.37],[13.35,-6.2],[13.41,-6.1],[13.48,-6.0],[13.55,-5.93],[13.62,-5.8],[13.69,-5.7],[13.76,-5.6],
  [13.83,-5.4],[13.9,-5.15],[13.93,-5.6],[13.97,-6.15],[14.01,-5.6],[14.05,-5.3],[14.1,-5.7],[14.15,-6.0],
  [14.19,-6.09],[14.27,-6.0],[14.33,-5.98],[14.4,-5.93],[14.48,-5.85],[14.55,-5.8],[14.62,-5.76],[14.7,-5.55],
  [14.76,-5.4],[14.83,-5.32],[14.9,-5.3],[14.97,-5.28],[15.04,-5.27],[15.12,-5.3],[15.19,-5.33],[15.26,-5.38],
  [15.33,-5.7],[15.41,-6.04],[15.48,-6.2],[15.54,-6.37],[15.61,-6.45],[15.69,-6.5],[15.76,-6.54],[15.83,-6.56],
  [15.9,-6.59],[15.97,-6.59],[16.04,-6.5],[16.11,-6.43],[16.18,-6.15],[16.25,-5.82],[16.32,-5.7],[16.4,-5.49],
  [16.47,-5.3],[16.54,-5.15],[16.61,-5.35],[16.68,-5.6],[16.75,-5.35],[16.82,-5.21],[16.9,-5.3],[16.97,-5.4],
  [17.04,-5.25],[17.11,-5.15],[17.18,-5.3],[17.25,-5.4],[17.32,-5.43],[17.4,-5.35],[17.47,-5.3],[17.54,-5.32],
  [17.61,-5.4],[17.68,-5.35],[17.75,-5.4],[17.82,-5.3],[17.89,-5.2],[17.96,-5.0],[18.03,-4.82],[18.1,-4.9],
  [18.18,-4.99],[18.25,-4.92],[18.32,-4.85],[18.39,-4.88],[18.46,-4.95],[18.53,-4.93]
];

// ---------------- drawing ----------------
const svg = d3.select("#fig");
const FONT = '"DejaVu Sans", sans-serif';
const SERIF = '"Liberation Serif", "DejaVu Serif", serif';
const intFmt = d3.format("d");

const xL = d3.scaleLinear().domain([-3.177, 2.52]).range([70, 584]);
const yL = d3.scaleLinear().domain([-3.05, 2.61]).range([383, 36]);
const xR = d3.scaleLinear().domain([0, 20]).range([683, 1151]);
const yR = d3.scaleLinear().domain([-16, -4]).range([403, 42]);

function styleAxis(sel, size, color) {
  sel.select(".domain").remove();
  sel.selectAll(".tick line").attr("stroke", color).attr("stroke-width", 1);
  sel.selectAll(".tick text").attr("font-family", FONT).attr("font-size", size).attr("fill", "#000");
  sel.attr("font-family", null).attr("font-size", null);
}

function drawAxes(x, y, xt, yt, opt) {
  const [x0, x1] = x.range();
  const [y0, y1] = y.range();
  const g = svg.append("g");
  g.append("g").attr("transform", `translate(0,${y0})`)
    .call(d3.axisBottom(x).tickValues(xt).tickFormat(intFmt).tickSize(-4).tickPadding(opt.padX))
    .call(s => styleAxis(s, opt.size, opt.tick));
  g.append("g").attr("transform", `translate(0,${y1})`)
    .call(d3.axisTop(x).tickValues(xt).tickSize(-4).tickFormat(""))
    .call(s => styleAxis(s, opt.size, opt.tick));
  g.append("g").attr("transform", `translate(${x0},0)`)
    .call(d3.axisLeft(y).tickValues(yt).tickFormat(intFmt).tickSize(-4).tickPadding(opt.padY))
    .call(s => styleAxis(s, opt.size, opt.tick));
  g.append("g").attr("transform", `translate(${x1},0)`)
    .call(d3.axisRight(y).tickValues(yt).tickSize(-4).tickFormat(""))
    .call(s => styleAxis(s, opt.size, opt.tick));
  g.append("rect").attr("x", x0).attr("y", y1).attr("width", x1 - x0).attr("height", y0 - y1)
    .attr("fill", "none").attr("stroke", opt.frame).attr("stroke-width", opt.frameW);
}

// ---- panel (a) background shading ----
(function shade() {
  const [px0, px1] = xL.range();
  const [pyB, pyT] = yL.range();
  const w = Math.round(px1 - px0), h = Math.round(pyB - pyT);
  const nx = shadeX.length, ny = shadeY.length;
  const ix = d3.scaleLinear().domain(shadeX).range(d3.range(nx)).clamp(true);
  const iy = d3.scaleLinear().domain(shadeY).range(d3.range(ny)).clamp(true);
  const cr = (p0, p1, p2, p3, t) =>
    0.5 * (2 * p1 + (-p0 + p2) * t + (2 * p0 - 5 * p1 + 4 * p2 - p3) * t * t + (-p0 + 3 * p1 - 3 * p2 + p3) * t * t * t);
  const cl = (v, n) => Math.max(0, Math.min(n - 1, v));
  function sample(fx, fy) {
    const i = Math.min(Math.floor(fx), nx - 2), j = Math.min(Math.floor(fy), ny - 2);
    const tx = fx - i, ty = fy - j;
    const row = r => {
      const R = shadeRows[cl(r, ny)];
      return cr(R[cl(i - 1, nx)], R[cl(i, nx)], R[cl(i + 1, nx)], R[cl(i + 2, nx)], tx);
    };
    return cr(row(j - 1), row(j), row(j + 1), row(j + 2), ty);
  }
  const canvas = document.createElement("canvas");
  canvas.width = w; canvas.height = h;
  const ctx = canvas.getContext("2d");
  const img = ctx.createImageData(w, h);
  for (let r = 0; r < h; r++) {
    const fy = iy(yL.invert(pyT + r + 0.5));
    for (let c = 0; c < w; c++) {
      const fx = ix(xL.invert(px0 + c + 0.5));
      const v = Math.max(0, Math.min(1, sample(fx, fy)));
      const k = (r * w + c) * 4, g = Math.round(v * 255);
      img.data[k] = g; img.data[k + 1] = g; img.data[k + 2] = g; img.data[k + 3] = 255;
    }
  }
  ctx.putImageData(img, 0, 0);
  svg.append("image").attr("x", px0).attr("y", pyT).attr("width", w).attr("height", h)
    .attr("preserveAspectRatio", "none").attr("href", canvas.toDataURL());
})();

// ---- panel (a) scatter ----
const latentColors = ["#db1c1c", "#62a620", "#4779bb"];
const latentData = [nnsearchPts, filterPts, optimizePts];
const markerR = 5.5;
latentData.forEach((pts, k) => {
  svg.append("g").selectAll("circle").data(pts).join("circle")
    .attr("cx", d => xL(d[0])).attr("cy", d => yL(d[1])).attr("r", markerR)
    .attr("fill", latentColors[k]).attr("fill-opacity", 0.88)
    .attr("stroke", "#1e1e1e").attr("stroke-opacity", 0.85).attr("stroke-width", 0.7);
});

drawAxes(xL, yL, latentTicks, latentTicks, { padX: 6.5, padY: 5, size: 19, tick: "#000", frame: "#000", frameW: 1.5 });

// legend (a)
(function legendA() {
  const g = svg.append("g");
  g.append("rect").attr("x", 81).attr("y", 273).attr("width", 172).attr("height", 99)
    .attr("fill", "#fff").attr("stroke", "#000").attr("stroke-width", 1.2);
  const rowY = [292, 323, 354];
  const dx = [95, 110, 125], dy = [0.5, -1.5, 1.5];
  latentSeries.forEach((name, k) => {
    dx.forEach((x, m) => {
      g.append("circle").attr("cx", x).attr("cy", rowY[k] + dy[m]).attr("r", markerR)
        .attr("fill", latentColors[k]).attr("fill-opacity", 0.88)
        .attr("stroke", "#1e1e1e").attr("stroke-width", 0.7);
    });
    g.append("text").attr("x", 148).attr("y", rowY[k] + 7).attr("font-family", FONT)
      .attr("font-size", 20).text(name);
  });
})();

svg.append("text").attr("x", 327).attr("y", 31).attr("text-anchor", "middle")
  .attr("font-family", FONT).attr("font-size", 25).text("Latent Space");
svg.append("text").attr("x", 327).attr("y", 428).attr("text-anchor", "middle")
  .attr("font-family", FONT).attr("font-size", 20).text("Latent Dimension 1");
svg.append("text").attr("transform", "translate(29.5,209.5) rotate(-90)").attr("text-anchor", "middle")
  .attr("font-family", FONT).attr("font-size", 20).text("Latent Dimension 2");
svg.append("text").attr("x", 291).attr("y", 484).attr("text-anchor", "middle")
  .attr("font-family", SERIF).attr("font-size", 25).text("(a)");

// ---- panel (b) lines ----
const trackColors = ["#000000", "#ff0000", "#008000", "#0000ff"];
const tracks = [groundTruth, nnSearch, filterTrack, optimizeTrack];
const line = d3.line().x(d => xR(d[0])).y(d => yR(d[1]));
svg.append("g").selectAll("path").data(tracks).join("path")
  .attr("d", line).attr("fill", "none")
  .attr("stroke", (d, i) => trackColors[i]).attr("stroke-width", 2)
  .attr("stroke-linejoin", "round").attr("stroke-linecap", "round");

drawAxes(xR, yR, timeTicks, twistTicks, { padX: 6.5, padY: 6, size: 20, tick: "#333", frame: "#555", frameW: 1.5 });

// legend (b)
(function legendB() {
  const g = svg.append("g");
  g.append("rect").attr("x", 981).attr("y", 298).attr("width", 162).attr("height", 98)
    .attr("fill", "#fff").attr("stroke", "#444").attr("stroke-width", 1.3);
  const rowY = [312.5, 335, 357.5, 380];
  trackNames.forEach((name, k) => {
    g.append("line").attr("x1", 991.5).attr("x2", 1015).attr("y1", rowY[k]).attr("y2", rowY[k])
      .attr("stroke", trackColors[k]).attr("stroke-width", 2);
    g.append("text").attr("x", 1032).attr("y", rowY[k] + 5.5).attr("font-family", FONT)
      .attr("font-size", 15.5).text(name);
  });
})();

svg.append("text").attr("x", 917).attr("y", 37).attr("text-anchor", "middle")
  .attr("font-family", FONT).attr("font-size", 23).text("Collar-Head");
svg.append("text").attr("x", 917).attr("y", 447).attr("text-anchor", "middle")
  .attr("font-family", FONT).attr("font-size", 20).text("Time (secs)");
svg.append("text").attr("transform", "translate(626,222.5) rotate(-90)").attr("text-anchor", "middle")
  .attr("font-family", FONT).attr("font-size", 20).text("Center of Twist");
svg.append("text").attr("x", 905).attr("y", 483).attr("text-anchor", "middle")
  .attr("font-family", SERIF).attr("font-size", 25).text("(b)");
</script>
</body>
</html>
